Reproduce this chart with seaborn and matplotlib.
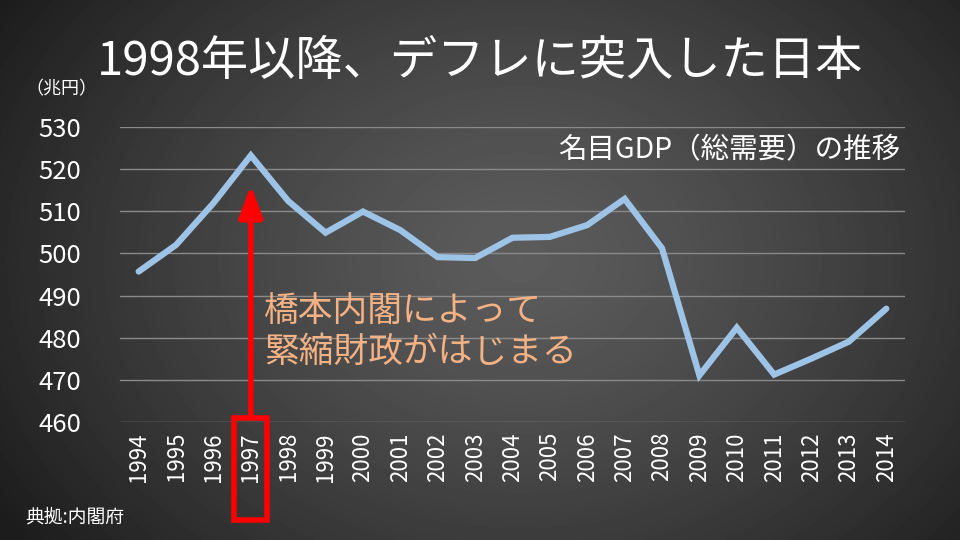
import numpy as np
import pandas as pd
import matplotlib
matplotlib.use("Agg")
import matplotlib.pyplot as plt
import matplotlib.patches as mpatches
from matplotlib.transforms import blended_transform_factory
import seaborn as sns

years = list(range(1994, 2015))
gdp = [495.7, 502.0, 511.9, 523.2, 512.4, 504.9, 509.9, 505.5, 499.1, 498.9,
       503.7, 503.9, 506.7, 512.9, 501.2, 471.1, 482.4, 471.3, 475.1, 479.1, 486.9]
yticks = [460, 470, 480, 490, 500, 510, 520, 530]

title = "1998年以降、デフレに突入した日本"
unit_label = "（兆円）"
series_label = "名目GDP（総需要）の推移"
note = "橋本内閣によって\n緊縮財政がはじまる"
source = "典拠:内閣府"
highlight_year = 1997

sns.set_theme(style="dark")
plt.rcParams['font.family'] = ['Noto Sans CJK JP', 'DejaVu Sans']

fig = plt.figure(figsize=(9.6, 5.4), dpi=100)

# radial gradient background
bg = fig.add_axes([0, 0, 1, 1])
gx, gy = np.meshgrid(np.linspace(0, 960, 480), np.linspace(0, 540, 270))
r = np.sqrt(((gx - 520) / 620) ** 2 + ((gy - 260) / 480) ** 2)
r = np.clip(r, 0, 1)
c0, c1 = 0.36, 0.11
shade = c0 + (c1 - c0) * r ** 1.3
bg.imshow(shade, cmap='gray', vmin=0, vmax=1, extent=[0, 960, 540, 0], aspect='auto')
bg.set_axis_off()

ax = fig.add_axes([0.125, 0.218, 0.8177, 0.5474])
ax.set_facecolor('none')
df = pd.DataFrame({"year": years, "gdp": gdp})
sns.lineplot(data=df, x="year", y="gdp", ax=ax, color='#9DC3E6', linewidth=4.5,
             solid_joinstyle='miter', solid_capstyle='round')
ax.set_xlim(years[0] - 0.5, years[-1] + 0.5)
ax.set_ylim(460, 530)
ax.set_yticks(yticks)
ax.set_xticks(years)
ax.set_xticklabels([str(y) for y in years], rotation=90, fontsize=16, color='white')
ax.set_yticklabels([str(v) for v in yticks], fontsize=18.5, color='white')
ax.tick_params(axis='x', pad=7, length=0)
ax.tick_params(axis='y', pad=28, length=0)
ax.grid(axis='y', color='#8a8a8a', linewidth=1)
ax.grid(axis='x', visible=False)
for s in ax.spines.values():
    s.set_visible(False)
ax.set_xlabel("")
ax.set_ylabel("")

fig.text(0.5, 0.885, title, ha='center', va='center', fontsize=34, color='white')
fig.text(0.027, 0.835, unit_label, ha='left', va='center', fontsize=13, color='white')
fig.text(0.938, 0.722, series_label, ha='right', va='center', fontsize=20.5, color='white')
fig.text(0.026, 0.043, source, ha='left', va='center', fontsize=13.5, color='white')

ax.text(highlight_year + 0.35, 490.3, note,
        ha='left', va='top', fontsize=25, color='#F4B183', linespacing=1.2)

# arrow from the 1997 box up to the peak
trans = blended_transform_factory(ax.transData, fig.transFigure)
ax.annotate("", xy=(highlight_year, 0.657), xycoords=trans,
            xytext=(highlight_year, 0.226), textcoords=trans,
            arrowprops=dict(arrowstyle='-|>,head_length=1.6,head_width=0.6',
                            color='#FF0000', lw=4, shrinkA=0, shrinkB=0))
rect = mpatches.Rectangle((highlight_year - 0.44, 0.037), 0.88, 0.189,
                          transform=trans, fill=False, edgecolor='#FF0000',
                          linewidth=4, clip_on=False)
ax.add_patch(rect)

fig.savefig("out.png", dpi=100)
